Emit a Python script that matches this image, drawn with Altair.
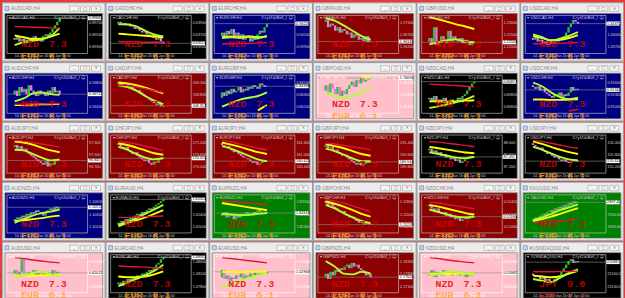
import altair as alt
import pandas as pd

W = 103.83
H = 59.2

titles = ["AUDCAD,H4", "CADCHF,H4", "EURCHF,H4", "GBPAUD,H4", "GBPUSD,H4", "USDCAD,H4",
          "AUDCHF,H4", "CADJPY,H4", "EURGBP,H4", "GBPCAD,H4", "NZDCAD,H4", "USDCHF,H4",
          "AUDJPY,H4", "CHFJPY,H4", "EURJPY,H4", "GBPJPY,H4", "NZDJPY,H4", "USDJPY,H4",
          "AUDNZD,H4", "EURAUD,H4", "EURNZD,H4", "GBPCHF,H4", "NZDCHF,H4", "XAUUSD,H4",
          "AUDUSD,H4", "EURCAD,H4", "EURUSD,H4", "GBPNZD,H4", "NZDUSD,H4", "#USNDAQ100,H4"]

BG = {"K": "#000000", "N": "#00007f", "D": "#8b0000", "P": "#ffc0cb", "G": "#008000"}
bg_codes = ["K", "K", "N", "D", "D", "N",
            "N", "D", "N", "P", "K", "N",
            "D", "D", "D", "D", "K", "K",
            "N", "K", "G", "D", "D", "G",
            "P", "K", "P", "D", "P", "K"]

# candle closes, normalised 0 (bottom of plot) .. 100 (top of plot)
closes = [
    [40, 35, 45, 30, 38, 25, 35, 40, 30, 45, 35, 40, 30, 45, 50, 45, 55, 65, 75, 85, 95],
    [80, 85, 78, 82, 75, 80, 72, 70, 65, 68, 60, 55, 58, 50, 45, 48, 40, 35, 42, 30, 25],
    [45, 55, 40, 60, 50, 65, 45, 55, 40, 50, 35, 45, 40, 30, 45, 35, 50, 60, 55, 70, 80],
    [85, 90, 70, 80, 75, 60, 70, 55, 65, 60, 50, 55, 40, 50, 45, 35, 40, 30, 45, 28, 30],
    [30, 40, 25, 70, 20, 30, 45, 35, 25, 60, 30, 45, 35, 30, 40, 25, 35, 30, 20, 25, 28],
    [40, 35, 45, 30, 35, 25, 30, 20, 30, 25, 35, 30, 40, 35, 45, 55, 70, 80, 90, 85, 80],
    [50, 60, 45, 70, 55, 65, 50, 75, 60, 55, 45, 60, 50, 55, 45, 60, 50, 70, 55, 60, 50],
    [80, 85, 75, 82, 78, 70, 72, 65, 60, 62, 55, 50, 45, 40, 35, 30, 25, 20, 25, 15, 18],
    [40, 55, 45, 60, 50, 65, 55, 60, 70, 55, 65, 60, 70, 65, 75, 70, 65, 80, 75, 70, 72],
    [60, 75, 55, 80, 65, 50, 70, 45, 60, 50, 65, 75, 85, 70, 90, 80, 95, 85, 90, 92, 95],
    [35, 40, 30, 45, 25, 35, 30, 40, 25, 30, 35, 25, 30, 40, 35, 45, 50, 60, 70, 80, 85],
    [75, 70, 65, 72, 60, 65, 55, 50, 45, 40, 50, 45, 55, 40, 50, 45, 55, 70, 60, 65, 62],
    [70, 75, 65, 72, 60, 65, 55, 50, 45, 40, 35, 30, 25, 20, 30, 15, 25, 20, 35, 30, 32],
    [75, 80, 70, 65, 70, 60, 55, 50, 55, 45, 40, 35, 30, 35, 25, 20, 30, 25, 35, 40, 38],
    [80, 75, 70, 72, 65, 60, 55, 58, 50, 45, 40, 38, 35, 30, 25, 30, 20, 25, 30, 28, 30],
    [70, 75, 65, 70, 60, 62, 55, 50, 45, 48, 40, 35, 30, 25, 20, 25, 18, 22, 30, 25, 28],
    [60, 65, 55, 60, 50, 55, 45, 50, 40, 45, 35, 40, 30, 35, 25, 30, 35, 40, 45, 40, 42],
    [80, 75, 70, 65, 68, 60, 55, 50, 52, 45, 40, 42, 35, 30, 35, 28, 25, 30, 35, 32, 30],
    [30, 35, 40, 35, 45, 40, 50, 45, 55, 50, 60, 55, 50, 45, 55, 60, 65, 60, 70, 65, 68],
    [20, 25, 30, 25, 35, 30, 40, 35, 45, 50, 45, 55, 50, 60, 65, 60, 70, 75, 80, 85, 90],
    [50, 45, 55, 40, 50, 45, 35, 45, 40, 50, 45, 55, 50, 45, 55, 50, 60, 55, 50, 55, 52],
    [85, 80, 75, 78, 70, 65, 60, 55, 58, 50, 45, 40, 42, 35, 30, 25, 28, 20, 25, 22, 20],
    [70, 75, 65, 60, 65, 55, 50, 55, 45, 50, 40, 45, 35, 40, 30, 35, 40, 35, 45, 40, 42],
    [30, 35, 40, 35, 45, 50, 45, 55, 60, 55, 65, 60, 70, 65, 75, 70, 80, 75, 85, 80, 82],
    [50, 60, 45, 55, 90, 50, 45, 55, 50, 60, 45, 55, 50, 45, 55, 50, 45, 60, 50, 55, 52],
    [20, 25, 15, 30, 25, 35, 30, 40, 35, 45, 40, 50, 45, 55, 60, 55, 65, 75, 80, 90, 95],
    [40, 60, 35, 45, 30, 40, 35, 45, 40, 50, 35, 45, 40, 50, 45, 55, 45, 50, 55, 50, 55],
    [40, 50, 35, 55, 45, 60, 55, 65, 60, 70, 75, 65, 80, 70, 75, 65, 60, 55, 45, 50, 40],
    [50, 45, 60, 40, 55, 50, 45, 60, 55, 50, 45, 55, 50, 45, 55, 50, 40, 50, 45, 55, 52],
    [50, 45, 40, 45, 35, 40, 30, 35, 25, 30, 35, 40, 45, 55, 65, 75, 85, 90, 80, 85, 82],
]

# moving-average lines (6 control points across the candles), None = not drawn
ma_red = [
    [72, 71, 70, 69, 68, 67], [30, 29, 29, 28, 28, 28], [24, 24, 25, 25, 26, 27], [], [], [24, 24, 25, 25, 26, 27],
    [22, 22, 23, 23, 24, 24], [75, 74, 70, 65, 60, 55], [], [], [78, 77, 75, 74, 72, 70], [None, None, None, None, 3, 8],
    [88, 86, 82, 78, 74, 70], [85, 82, 78, 72, 66, 60], [88, 84, 78, 72, 66, 62], [80, 78, 74, 70, 66, 62], [85, 83, 80, 77, 74, 70], [88, 85, 80, 75, 70, 66],
    [], [40, 40, 41, 42, 43, 44], [85, 84, 82, 80, 78, 76], [90, 86, 80, 72, 64, 56], [82, 80, 76, 72, 68, 64], [25, 26, 28, 30, 33, 36],
    [95, 92, 88, 85, 82, 80], [72, 70, 69, 68, 66, 65], [95, 92, 89, 86, 83, 80], [], [95, 92, 88, 85, 82, 80], [56, 55, 55, 56, 56, 57],
]
ma_yellow = [
    [47, 42, 37, 38, 44, 52], [52, 50, 48, 46, 44, 42], [42, 44, 42, 45, 42, 44], [], [98, 92, 85, 78, 72, 65], [45, 40, 34, 35, 40, 48],
    [20, 20, 21, 22, 22, 23], [82, 80, 75, 68, 60, 52], [None, None, None, None, 5, 20], [None, None, None, None, 98, 100], [30, 30, 29, 30, 31, 33], [35, 35, 34, 34, 35, 36],
    [85, 82, 76, 68, 60, 55], [80, 75, 68, 60, 52, 48], [82, 76, 70, 62, 55, 50], [78, 72, 66, 58, 50, 45], [70, 66, 62, 58, 54, 52], [85, 78, 70, 62, 55, 50],
    [30, 32, 35, 38, 42, 45], [20, 25, 32, 40, 50, 60], [80, 76, 72, 68, 64, 60], [85, 78, 70, 60, 50, 42], [75, 70, 64, 58, 52, 48], [30, 35, 42, 50, 58, 66],
    [45, 45, 44, 45, 46, 47], [42, 40, 40, 42, 48, 56], [55, 55, 54, 55, 55, 56], [], [50, 50, 49, 50, 50, 51], [45, 42, 40, 42, 50, 58],
]
ma_green = [
    [20, 28, 32, 36, 45, 68], [78, 78, 72, 60, 50, 44], [40, 42, 40, 43, 40, 46], [95, 88, 75, 60, 45, 35], [22, 28, 34, 36, 30, 28], [50, 42, 32, 38, 46, 56],
    [30, 38, 52, 55, 50, 48], [75, 70, 60, 45, 32, 22], [15, 25, 35, 40, 45, 55], [55, 45, 38, 45, 55, 68], [12, 16, 22, 28, 35, 45], [82, 72, 55, 42, 36, 40],
    [62, 60, 50, 40, 32, 35], [70, 62, 50, 40, 35, 38], [72, 65, 55, 45, 35, 30], [65, 58, 48, 38, 30, 30], [55, 50, 45, 40, 38, 42], [70, 62, 52, 42, 35, 32],
    [25, 35, 45, 52, 56, 62], [15, 25, 38, 50, 62, 75], [50, 48, 46, 47, 50, 52], [75, 65, 52, 40, 30, 24], [62, 55, 48, 42, 40, 42], [32, 40, 50, 60, 68, 76],
    [40, 45, 52, 55, 48, 42], [15, 25, 35, 45, 58, 75], [12, 20, 30, 38, 45, 52], [85, 70, 50, 48, 55, 50], [45, 48, 55, 55, 50, 48], [35, 30, 26, 38, 52, 62],
]

tick_levels = [82, 48, 14]
ticks = [
    ["0.89700", "0.89500", "0.89300"], ["0.63900", "0.63700", "0.63500"], ["0.94300", "0.94100", "0.93900"],
    ["1.97200", "1.96700", "1.96200"], ["1.23000", "1.22500", "1.22000"], ["1.44300", "1.44000", "1.43700"],
    ["0.56800", "0.56600", "0.56400"], ["109.300", "108.800", "108.300"], ["0.84500", "0.84300", "0.84100"],
    ["1.76200", "1.75800", "1.75400"], ["0.81000", "0.80800", "0.80600"], ["0.91600", "0.91300", "0.91000"],
    ["97.500", "97.100", "96.700"], ["171.200", "170.600", "170.000"], ["161.600", "161.000", "160.400"],
    ["191.400", "190.600", "189.800"], ["88.000", "87.600", "87.200"], ["156.400", "155.800", "155.200"],
    ["1.10600", "1.10400", "1.10200"], ["1.65800", "1.65400", "1.65000"], ["1.83200", "1.82800", "1.82400"],
    ["1.11800", "1.11500", "1.11200"], ["0.51400", "0.51200", "0.51000"], ["2710.00", "2700.00", "2690.00"],
    ["0.62200", "0.62000", "0.61800"], ["1.48400", "1.48100", "1.47800"], ["1.03300", "1.03000", "1.02700"],
    ["2.18300", "2.17800", "2.17300"], ["0.56200", "0.56000", "0.55800"], ["21300.0", "21200.0", "21100.0"],
]
last_price = ["0.89684", "0.63512", "0.94228", "1.96345", "1.22106", "1.44372",
              "0.56712", "108.312", "0.84398", "1.76094", "0.80874", "0.91342",
              "96.845", "170.412", "160.622", "189.944", "87.492", "155.614",
              "1.10512", "1.65322", "1.82614", "1.11228", "0.51186", "2697.40",
              "0.62021", "1.48352", "1.02963", "2.17624", "0.55982", "21188.5"]

time_labels = ["14 Jan 2025", "15 Jan 16:00", "17 Jan 00:00"]
time_at = [0, 7.5, 15]

cur1 = ["NZD"] * 29 + ["JPY"]
val1 = ["7.3"] * 29 + ["9.0"]
cur2 = ["EUR"] * 29 + ["CHF"]
val2 = ["6.1"] * 29 + ["7.7"]

BULL = "#2fbf3a"
BEAR = "#e07ae0"
LINE_COL = {"red": "#e0143a", "yellow": "#ffff00", "green": "#adff2f"}
LINE_W = {"red": 1.4, "yellow": 1.9, "green": 1.9}

rows = []
for p in range(30):
    bg = BG[bg_codes[p]]
    fg = "#ffffff" if bg_codes[p] == "P" else "#cfcfcf"
    c2col = "#b22222" if cur2[p] == "CHF" else "#ff9a1a"
    base = dict(p=p, title=titles[p], bg=bg, fg=fg)
    rows.append({**base, "kind": "panel", "t1": cur1[p], "v1": val1[p],
                 "t2": cur2[p], "v2": val2[p], "c2": c2col})
    cs = closes[p]
    n = len(cs) - 1
    for i in range(n):
        o, c = cs[i], cs[i + 1]
        rows.append({**base, "kind": "candle", "x": i, "o": o, "c": c,
                     "col": BULL if c >= o else BEAR})
    for name, series in (("yellow", ma_yellow[p]), ("green", ma_green[p]), ("red", ma_red[p])):
        for t, v in enumerate(series):
            if v is None:
                continue
            rows.append({**base, "kind": "line", "ln": name, "lc": LINE_COL[name],
                         "lw": LINE_W[name], "x": t * (n - 1) / 5, "y": v})
    rows.append({**base, "kind": "last", "y": cs[-1], "label": last_price[p]})
    for lv, lab in zip(tick_levels, ticks[p]):
        rows.append({**base, "kind": "tick", "y": lv, "label": lab})
    for ta, tl in zip(time_at, time_labels):
        rows.append({**base, "kind": "time", "x": ta, "label": tl})

df = pd.DataFrame(rows)

xs = alt.Scale(domain=[-0.5, 19.5], range=[6.5, 64], nice=False, zero=False)
ys = alt.Scale(domain=[0, 100], range=[50, 14], nice=False, zero=False)
X = alt.X("x:Q", scale=xs, axis=None)
Y = alt.Y("y:Q", scale=ys, axis=None)


def only(kind):
    return alt.datum.kind == kind


FRAME = "#dedede"


def panel_layers():
    base = alt.Chart()
    layers = []
    # window frame + title bar
    layers.append(base.mark_rect(fill=FRAME).encode(
        x=alt.value(0), x2=alt.value(W), y=alt.value(0), y2=alt.value(H)).transform_filter(only("panel")))
    layers.append(base.mark_rect(fill="#ececec").encode(
        x=alt.value(1), x2=alt.value(W - 1), y=alt.value(1), y2=alt.value(10.5)).transform_filter(only("panel")))
    layers.append(base.mark_rect(fill="#c4d6ee", stroke="#5b7fb5", strokeWidth=0.6).encode(
        x=alt.value(3), x2=alt.value(7), y=alt.value(4), y2=alt.value(8)).transform_filter(only("panel")))
    layers.append(base.mark_text(align="left", baseline="middle", fontSize=5, color="#8a8a8a",
                                 font="Liberation Sans").encode(
        x=alt.value(9), y=alt.value(6), text="title:N").transform_filter(only("panel")))
    for k, glyph in enumerate(["_", "□", "×"]):
        x0 = W - 36 + k * 11
        layers.append(base.mark_rect(fill="#f5f5f5", stroke="#a6a6a6", strokeWidth=0.6).encode(
            x=alt.value(x0), x2=alt.value(x0 + 9), y=alt.value(3.5), y2=alt.value(9)).transform_filter(only("panel")))
        layers.append(base.mark_text(fontSize=4.5, color="#666666", font="DejaVu Sans", baseline="middle").encode(
            x=alt.value(x0 + 4.5), y=alt.value(6.2), text=alt.value(glyph)).transform_filter(only("panel")))
    # chart area
    layers.append(base.mark_rect(stroke="#7d7d7d", strokeWidth=0.6).encode(
        x=alt.value(3), x2=alt.value(W - 3), y=alt.value(11), y2=alt.value(H - 2.6),
        fill=alt.Fill("bg:N", scale=None)).transform_filter(only("panel")))
    layers.append(base.mark_rect(fillOpacity=0, fill="black", strokeWidth=0.6).encode(
        x=alt.value(5), x2=alt.value(W - 18), y=alt.value(13), y2=alt.value(H - 8),
        stroke=alt.Stroke("fg:N", scale=None)).transform_filter(only("panel")))
    # price axis labels
    layers.append(base.mark_text(align="left", baseline="middle", fontSize=3.8, font="Liberation Sans").encode(
        x=alt.value(W - 16.5), y=Y, text="label:N", color=alt.Color("fg:N", scale=None)).transform_filter(only("tick")))
    # time labels
    layers.append(base.mark_text(align="left", baseline="middle", fontSize=3.6, font="Liberation Sans").encode(
        x=X, y=alt.value(H - 5.2), text="label:N", color=alt.Color("fg:N", scale=None)).transform_filter(only("time")))
    # current price line
    layers.append(base.mark_rule(color="#8c8c8c", strokeWidth=0.6).encode(
        x=alt.value(5), x2=alt.value(W - 18), y=Y).transform_filter(only("last")))
    # candles
    layers.append(base.mark_bar(size=2.3).encode(
        x=X, y=alt.Y("o:Q", scale=ys, axis=None), y2="c:Q",
        color=alt.Color("col:N", scale=None)).transform_filter(only("candle")))
    # moving averages
    layers.append(base.mark_line(interpolate="monotone").encode(
        x=X, y=Y, detail="ln:N", order="x:Q",
        color=alt.Color("lc:N", scale=None),
        strokeWidth=alt.StrokeWidth("lw:Q", scale=None)).transform_filter(only("line")))
    # price box
    layers.append(base.mark_rect(fill="#ffffff").encode(
        x=alt.value(W - 17.6), x2=alt.value(W - 4.2),
        y=alt.Y("lo:Q", scale=ys, axis=None), y2="hi:Q").transform_filter(only("last"))
        .transform_calculate(lo="datum.y - 5.5", hi="datum.y + 5.5"))
    layers.append(base.mark_text(align="left", baseline="middle", fontSize=3.8, color="#000000",
                                 font="Liberation Sans").encode(
        x=alt.value(W - 16.8), y=Y, text="label:N").transform_filter(only("last")))
    # labels inside plot
    layers.append(base.mark_text(align="left", baseline="middle", fontSize=4, font="Liberation Sans").encode(
        x=alt.value(7), y=alt.value(15.8), text="lbl:N", color=alt.Color("fg:N", scale=None))
        .transform_filter(only("panel")).transform_calculate(lbl="'▾ ' + datum.title"))
    layers.append(base.mark_text(align="right", baseline="middle", fontSize=4.3, font="DejaVu Sans").encode(
        x=alt.value(W - 20), y=alt.value(15.8), text=alt.value("CrystalBot_I ☺"),
        color=alt.Color("fg:N", scale=None)).transform_filter(only("panel")))
    # big overlay texts
    for field, xpos in (("t1", 28), ("v1", 56)):
        layers.append(base.mark_text(fontSize=10, font="Liberation Mono", fontWeight="bold",
                                     baseline="middle", color="#e00000", opacity=0.8).encode(
            x=alt.value(xpos), y=alt.value(42), text=f"{field}:N").transform_filter(only("panel")))
    for field, xpos in (("t2", 28), ("v2", 56)):
        layers.append(base.mark_text(fontSize=10, font="Liberation Mono", fontWeight="bold",
                                     baseline="middle", opacity=0.75).encode(
            x=alt.value(xpos), y=alt.value(53.8), text=f"{field}:N",
            color=alt.Color("c2:N", scale=None)).transform_filter(only("panel")))
    # bottom frame strip covers text overflow, then outline
    layers.append(base.mark_rect(fill=FRAME).encode(
        x=alt.value(0), x2=alt.value(W), y=alt.value(H - 2.3), y2=alt.value(H)).transform_filter(only("panel")))
    layers.append(base.mark_rect(fillOpacity=0, fill="black", stroke="#8f8f8f", strokeWidth=0.8).encode(
        x=alt.value(0.3), x2=alt.value(W - 0.3), y=alt.value(0.3), y2=alt.value(H - 0.3)).transform_filter(only("panel")))
    return layers


cells = []
for p in range(30):
    cells.append(alt.layer(*panel_layers()).transform_filter(alt.datum.p == p)
                 .properties(width=W, height=H))

chart = alt.concat(*cells, columns=6, data=df, spacing=0, bounds="flush").properties(
    padding=1, background="#e8383d").configure_view(strokeWidth=0)

chart.save("out.html", embed_options={"renderer": "svg", "actions": False})
